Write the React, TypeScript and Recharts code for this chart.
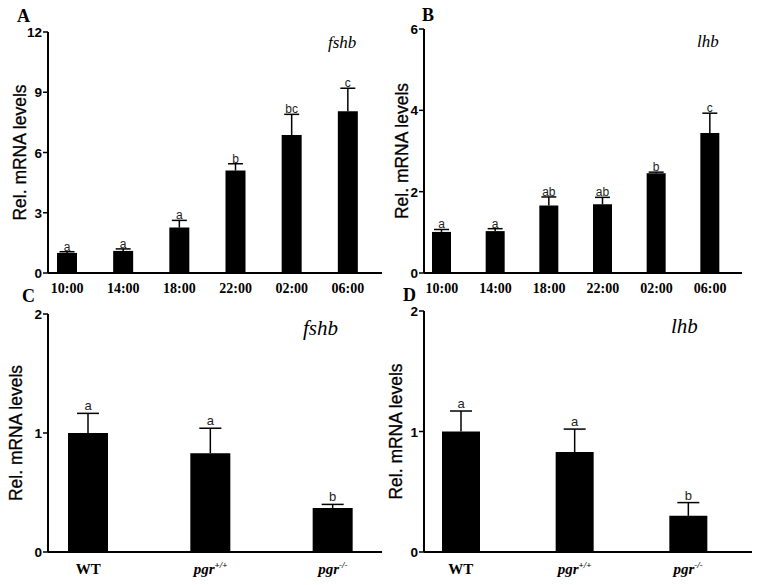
import { Bar, BarChart, LabelList, XAxis, YAxis } from 'recharts';

// panel A / B : time course
const timePoints = ['10:00', '14:00', '18:00', '22:00', '02:00', '06:00'];
const fshbTime = [1.0, 1.1, 2.26, 5.1, 6.87, 8.05];
const fshbTimeSem = [0.06, 0.1, 0.36, 0.34, 1.03, 1.15];
const fshbTimeSig = ['a', 'a', 'a', 'b', 'bc', 'c'];
const lhbTime = [1.01, 1.03, 1.66, 1.69, 2.45, 3.44];
const lhbTimeSem = [0.06, 0.06, 0.21, 0.17, 0.03, 0.49];
const lhbTimeSig = ['a', 'a', 'ab', 'ab', 'b', 'c'];

// panel C / D : genotypes
const genotypes = ['WT', 'pgr+/+', 'pgr-/-'];
const fshbGeno = [1.0, 0.83, 0.37];
const fshbGenoSem = [0.165, 0.21, 0.03];
const fshbGenoSig = ['a', 'a', 'b'];
const lhbGeno = [1.0, 0.83, 0.3];
const lhbGenoSem = [0.17, 0.19, 0.11];
const lhbGenoSig = ['a', 'a', 'b'];

const rows = (names: string[], mean: number[], sem: number[], sig: string[]) =>
  names.map((name, i) => ({ name, mean: mean[i], sem: sem[i], sig: sig[i] }));

const SANS = 'Liberation Sans, Arial, sans-serif';
const SERIF = 'Liberation Serif, Times New Roman, serif';

const errShape = (capW: number) => (props: any) => {
  const { x, y, width, height } = props;
  const cx = x + width / 2;
  const top = Math.min(y, y + height);
  const bottom = Math.max(y, y + height);
  return (
    <g>
      <line x1={cx} x2={cx} y1={top} y2={bottom} stroke="#000" strokeWidth={1.5} />
      <line x1={cx - capW / 2} x2={cx + capW / 2} y1={top} y2={top} stroke="#000" strokeWidth={1.5} />
    </g>
  );
};

const sigLabel = (fs: number, gap: number) => (props: any) => {
  const { x, y, width, height, value } = props;
  const top = Math.min(y, y + (height || 0));
  return (
    <text x={x + width / 2} y={top - gap} textAnchor="middle" fontSize={fs} fontFamily={SANS} fill="#222">
      {value}
    </text>
  );
};

const YTick = ({ x, y, payload }: any) => (
  <text x={x} y={y} dy={5} textAnchor="end" fontFamily={SANS} fontWeight="bold" fontSize={13.5} fill="#000">
    {payload.value}
  </text>
);

const TimeTick = ({ x, y, payload }: any) => (
  <text x={x} y={y + 18} textAnchor="middle" fontFamily={SERIF} fontWeight="bold" fontSize={14} fill="#000">
    {payload.value}
  </text>
);

const GenoTick = ({ x, y, payload }: any) => {
  const v: string = payload.value;
  if (v.startsWith('pgr')) {
    return (
      <text x={x} y={y + 20} textAnchor="middle" fontFamily={SERIF} fontWeight="bold" fontStyle="italic" fontSize={15} fill="#000">
        pgr<tspan dy={-6} fontSize={9}>{v.slice(3)}</tspan>
      </text>
    );
  }
  return (
    <text x={x} y={y + 20} textAnchor="middle" fontFamily={SERIF} fontWeight="bold" fontSize={15} fill="#000">
      {v}
    </text>
  );
};

const yLabel = (dx: number) => (props: any) => {
  const vb = props.viewBox;
  const cx = vb.x + dx;
  const cy = vb.y + vb.height / 2;
  return (
    <text x={cx} y={cy} transform={`rotate(-90 ${cx} ${cy})`} textAnchor="middle" dominantBaseline="central"
      fontFamily={SANS} fontSize={17.5} fill="#000" stroke="#000" strokeWidth={0.3}>
      Rel. mRNA levels
    </text>
  );
};

function Panel(p: any) {
  return (
    <div style={{ position: 'absolute', left: p.left, top: p.top }}>
      <BarChart width={382} height={300} data={p.data} margin={p.margin}>
        <XAxis dataKey="name" axisLine={{ stroke: '#000', strokeWidth: 2 }} tickLine={false} tickSize={0}
          height={p.xHeight} padding={p.padding} tick={p.tick} interval={0} />
        <YAxis width={p.yWidth} domain={p.domain} ticks={p.ticks} allowDataOverflow
          axisLine={{ stroke: '#000', strokeWidth: 2 }} tickLine={{ stroke: '#000', strokeWidth: 1.5 }}
          tickSize={5} tickMargin={1} tick={YTick}
          label={{ content: yLabel(p.labelDx) }} />
        <Bar dataKey="mean" stackId="s" fill="#000" barSize={p.barSize} isAnimationActive={false} />
        <Bar dataKey="sem" stackId="s" fill="none" barSize={p.barSize} shape={errShape(p.capW)} isAnimationActive={false}>
          <LabelList dataKey="sig" content={sigLabel(p.sigSize, p.sigGap)} />
        </Bar>
      </BarChart>
    </div>
  );
}

export default function App() {
  return (
    <div style={{ position: 'absolute', left: 0, top: 0, width: 764, height: 585, background: '#fff' }}>
      <Panel left={0} top={0} data={rows(timePoints, fshbTime, fshbTimeSem, fshbTimeSig)}
        margin={{ top: 32, right: 0, bottom: 0, left: 0 }} yWidth={48} xHeight={27}
        padding={{ left: -9, right: 6 }} domain={[0, 12]} ticks={[0, 3, 6, 9, 12]}
        barSize={20} capW={15} sigSize={12} sigGap={1} tick={TimeTick} labelDx={20} />
      <Panel left={382} top={0} data={rows(timePoints, lhbTime, lhbTimeSem, lhbTimeSig)}
        margin={{ top: 29, right: 22, bottom: 0, left: 0 }} yWidth={42} xHeight={27}
        padding={{ left: -9, right: 5 }} domain={[0, 6]} ticks={[0, 2, 4, 6]}
        barSize={19} capW={15} sigSize={12} sigGap={1} tick={TimeTick} labelDx={20} />
      <Panel left={0} top={285} data={rows(genotypes, fshbGeno, fshbGenoSem, fshbGenoSig)}
        margin={{ top: 29, right: 0, bottom: 0, left: 0 }} yWidth={48} xHeight={33}
        padding={{ left: -21, right: -12 }} domain={[0, 2]} ticks={[0, 1, 2]}
        barSize={40} capW={22} sigSize={13} sigGap={3} tick={GenoTick} labelDx={16} />
      <Panel left={382} top={285} data={rows(genotypes, lhbGeno, lhbGenoSem, lhbGenoSig)}
        margin={{ top: 26, right: 12, bottom: 0, left: 0 }} yWidth={42} xHeight={33}
        padding={{ left: -20, right: 7 }} domain={[0, 2]} ticks={[0, 1, 2]}
        barSize={38} capW={22} sigSize={13} sigGap={3} tick={GenoTick} labelDx={14} />
      <svg width={764} height={585} style={{ position: 'absolute', left: 0, top: 0, pointerEvents: 'none' }}>
        <g fontFamily={SERIF} fontWeight="bold" fontSize={18} fill="#000">
          <text x={17} y={22}>A</text>
          <text x={422} y={21}>B</text>
          <text x={22} y={302}>C</text>
          <text x={403} y={301}>D</text>
        </g>
        <g fontFamily={SERIF} fontStyle="italic" fill="#000">
          <text x={328} y={48} fontSize={17}>fshb</text>
          <text x={697} y={47} fontSize={17}>lhb</text>
          <text x={303} y={335} fontSize={21}>fshb</text>
          <text x={671} y={333} fontSize={21}>lhb</text>
        </g>
      </svg>
    </div>
  );
}
